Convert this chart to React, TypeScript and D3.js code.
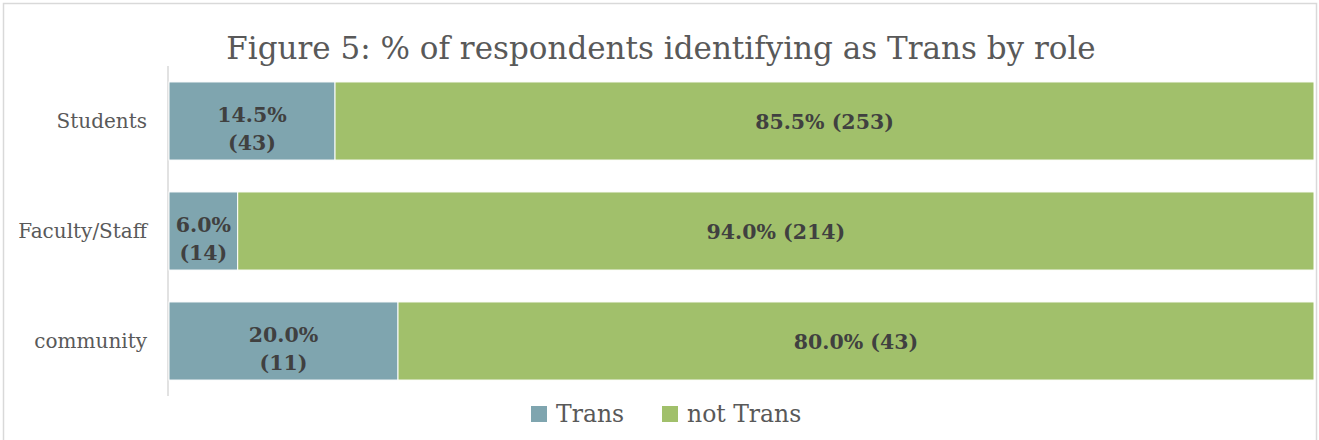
import React from 'react';
import * as d3 from 'd3';

const roles = ['Students', 'Faculty/Staff', 'community'];
const transPct = [14.5, 6.0, 20.0];
const transCount = [43, 14, 11];
const notTransPct = [85.5, 94.0, 80.0];
const notTransCount = [253, 214, 43];
const seriesNames = ['Trans', 'not Trans'];
const seriesColors = ['#7fa5af', '#a1c06b'];

const W = 1319;
const H = 440;
const FONT = '"DejaVu Serif", "Liberation Serif", serif';

const App: React.FC = () => {
  const x = d3.scaleLinear().domain([0, 100]).range([169, 1314]);
  const y = d3.scaleBand<string>().domain(roles).range([66, 396]).paddingInner(0.29).paddingOuter(0.145);

  const rows = roles.map((r, i) => ({
    role: r,
    segs: [
      { start: 0, end: transPct[i], label: [`${transPct[i].toFixed(1)}%`, `(${transCount[i]})`], color: seriesColors[0] },
      { start: transPct[i], end: 100, label: [`${notTransPct[i].toFixed(1)}% (${notTransCount[i]})`], color: seriesColors[1] },
    ],
  }));

  return (
    <svg width={W} height={H} style={{ position: 'absolute', left: 0, top: 0, background: '#fff' }} fontFamily={FONT}>
      <rect x={3.5} y={3.5} width={1313} height={460} fill="#fff" stroke="#d9d9d9" strokeWidth={1.5} />
      <text x={661} y={59} textAnchor="middle" fontSize={31} fill="#595959">
        Figure 5: % of respondents identifying as Trans by role
      </text>
      <line x1={168} x2={168} y1={66} y2={396} stroke="#d9d9d9" strokeWidth={1.5} />
      {rows.map(row => {
        const y0 = y(row.role)!;
        const bh = y.bandwidth();
        const cy = y0 + bh / 2;
        return (
          <g key={row.role}>
            <text x={147} y={cy + 7} textAnchor="end" fontSize={20} fill="#595959">{row.role}</text>
            {row.segs.map((s, j) => {
              const x0 = x(s.start);
              const x1 = x(s.end);
              const mx = (x0 + x1) / 2;
              return (
                <g key={j}>
                  <rect x={x0} y={y0} width={x1 - x0} height={bh} fill={s.color} stroke="#fff" strokeWidth={1} />
                  {s.label.length === 1 ? (
                    <text x={mx} y={cy + 8} textAnchor="middle" fontSize={20.5} fontWeight="bold" fill="#404040">{s.label[0]}</text>
                  ) : (
                    <text x={mx} textAnchor="middle" fontSize={20.5} fontWeight="bold" fill="#404040">
                      <tspan x={mx} y={cy + 1}>{s.label[0]}</tspan>
                      <tspan x={mx} y={cy + 29}>{s.label[1]}</tspan>
                    </text>
                  )}
                </g>
              );
            })}
          </g>
        );
      })}
      {seriesNames.map((n, i) => {
        const lx = i === 0 ? 531 : 662;
        return (
          <g key={n}>
            <rect x={lx} y={406} width={16} height={16} fill={seriesColors[i]} />
            <text x={lx + 25} y={422} fontSize={23.5} fill="#595959">{n}</text>
          </g>
        );
      })}
    </svg>
  );
};

export default App;
